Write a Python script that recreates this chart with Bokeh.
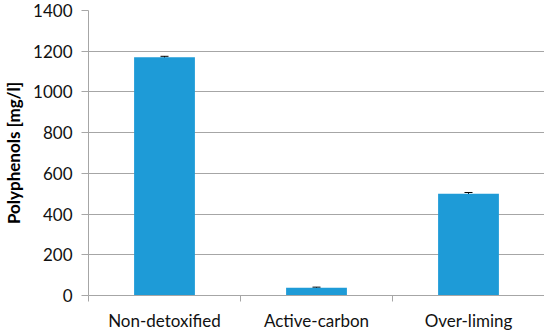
from bokeh.plotting import figure
from bokeh.models import ColumnDataSource, Whisker, FixedTicker, Range1d
from bokeh.embed import file_html
from bokeh.resources import INLINE

categories = ["Non-detoxified", "Active-carbon", "Over-liming"]
values = [1170, 38, 500]
errors = [5, 3, 6]
y_ticks = [0, 200, 400, 600, 800, 1000, 1200, 1400]

xs = [i + 0.5 for i in range(len(categories))]
src = ColumnDataSource(dict(
    x=xs, top=values,
    upper=[v + e for v, e in zip(values, errors)],
    lower=[v - e for v, e in zip(values, errors)],
))

p = figure(frame_width=456, frame_height=285, output_backend="svg", toolbar_location=None,
           x_range=Range1d(0, len(categories)), y_range=Range1d(0, 1400),
           min_border_left=76, min_border_right=0, min_border_top=10, min_border_bottom=0)
p.outline_line_color = None
p.background_fill_color = "white"

p.vbar(x="x", top="top", width=0.4, source=src, color="#1e9bd7", line_color=None)
w = Whisker(base="x", upper="upper", lower="lower", source=src, line_color="black",
            line_width=1)
w.upper_head.size = 8
w.lower_head.size = 8
w.upper_head.line_color = "black"
w.lower_head.line_color = "black"
p.add_layout(w)

font = "Lato"
p.xaxis.ticker = FixedTicker(ticks=xs, minor_ticks=list(range(len(categories) + 1)))
p.xaxis.major_label_overrides = {x: c for x, c in zip(xs, categories)}
p.xaxis.major_tick_line_color = None
p.xaxis.major_tick_in = 0
p.xaxis.major_tick_out = 0
p.xaxis.minor_tick_in = 0
p.xaxis.minor_tick_out = 6
p.xaxis.minor_tick_line_color = "#a6a6a6"
p.xaxis.axis_line_color = "#a6a6a6"
p.xaxis.major_label_text_font = font
p.xaxis.major_label_text_font_size = "17px"
p.xaxis.major_label_text_color = "#111111"
p.xaxis.major_label_standoff = 8

p.yaxis.ticker = FixedTicker(ticks=y_ticks)
p.yaxis.minor_tick_line_color = None
p.yaxis.major_tick_in = 0
p.yaxis.major_tick_out = 7
p.yaxis.major_tick_line_color = "#a6a6a6"
p.yaxis.axis_line_color = "#a6a6a6"
p.yaxis.major_label_text_font = font
p.yaxis.major_label_text_font_size = "17px"
p.yaxis.major_label_text_color = "#111111"
p.yaxis.major_label_standoff = 9
p.yaxis.axis_label = "Polyphenols [mg/l]"
p.yaxis.axis_label_text_font = font
p.yaxis.axis_label_text_font_style = "bold"
p.yaxis.axis_label_text_font_size = "17px"
p.yaxis.axis_label_text_color = "#000000"
p.yaxis.axis_label_standoff = 6

p.xgrid.grid_line_color = None
p.ygrid.grid_line_color = "#a6a6a6"

open("out.html", "w").write(file_html(p, INLINE))
